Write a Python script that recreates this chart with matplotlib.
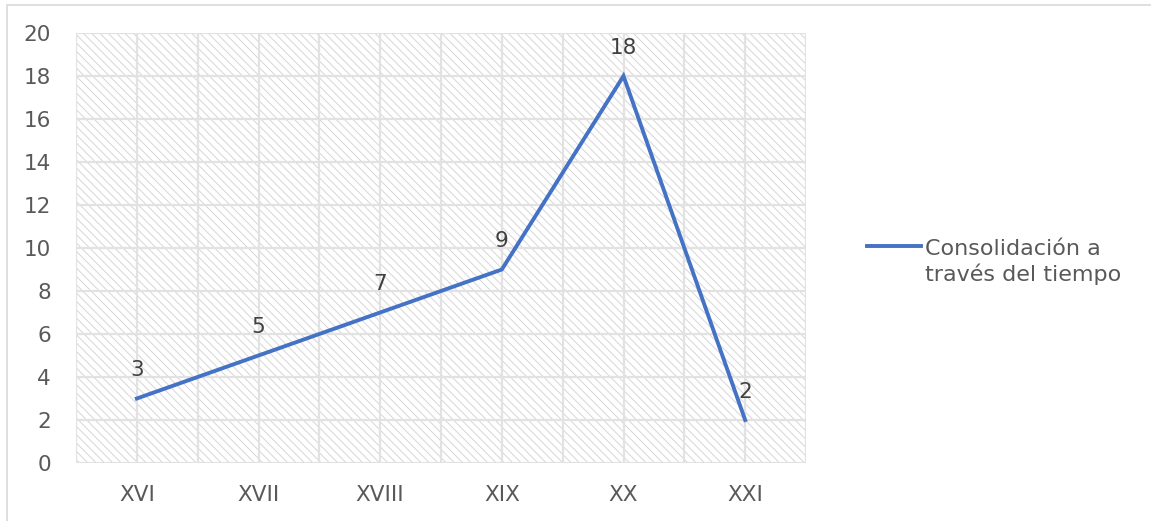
import matplotlib.pyplot as plt
from matplotlib.patches import Rectangle
from matplotlib.lines import Line2D

siglos = ["XVI", "XVII", "XVIII", "XIX", "XX", "XXI"]
valores = [3, 5, 7, 9, 18, 2]
serie = "Consolidación a\ntravés del tiempo"

plt.rcParams['font.family'] = ['DejaVu Sans']
plt.rcParams['hatch.linewidth'] = 0.7
gris = "#595959"
azul = "#4472C4"

fig = plt.figure(figsize=(11.51, 5.21), dpi=100)
ax = fig.add_axes([76/1151, 58/521, 730/1151, 430/521])

x = list(range(len(siglos)))
ax.set_xlim(-0.5, len(siglos) - 0.5)
ax.set_ylim(0, 20)

# fondo rayado
ax.add_patch(Rectangle((0, 0), 1, 1, transform=ax.transAxes, facecolor="white",
                       edgecolor="#d6d6d6", hatch="\\\\\\\\", linewidth=0, zorder=0))

# rejilla
for yv in range(0, 21, 2):
    ax.axhline(yv, color="#e2e2e2", lw=1.6, zorder=1)
for xv in [i * 0.5 - 0.5 for i in range(2 * len(siglos) + 1)]:
    ax.axvline(xv, color="#e2e2e2", lw=1.6, zorder=1)

ax.plot(x, valores, color=azul, lw=2.8, zorder=3, solid_joinstyle="miter")
for xi, v in zip(x, valores):
    ax.annotate(str(v), (xi, v), xytext=(0, 13), textcoords="offset points",
                ha="center", va="bottom", fontsize=15.5, color="#404040", zorder=4)

ax.set_xticks(x)
ax.set_xticklabels(siglos)
ax.set_yticks(range(0, 21, 2))
ax.tick_params(axis="both", length=0, labelsize=15.5, labelcolor=gris)
ax.tick_params(axis="x", pad=16)
ax.tick_params(axis="y", pad=18)
for s in ax.spines.values():
    s.set_visible(False)

fig.add_artist(Line2D([867/1151, 921/1151], [1 - 246/521, 1 - 246/521],
                      color=azul, lw=2.8))
fig.text(925/1151, 1 - 262/521, serie, fontsize=16, color=gris,
         ha="left", va="center", linespacing=1.3)

fig.add_artist(Rectangle((7/1151, -0.01), 1.02, 1 - 5/521 + 0.01,
                         transform=fig.transFigure, fill=False,
                         edgecolor="#d9d9d9", lw=1.2))

fig.savefig("out.png", dpi=100)
